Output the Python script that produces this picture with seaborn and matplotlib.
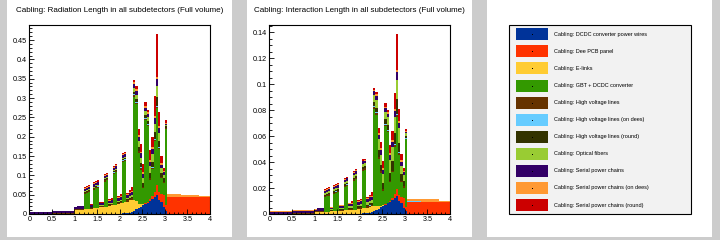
import numpy as np
import pandas as pd
import matplotlib
matplotlib.use("Agg")
import matplotlib.pyplot as plt
from matplotlib.patches import Rectangle
from matplotlib.ticker import MultipleLocator, FormatStrFormatter
import seaborn as sns

sns.set_theme(style="ticks")
plt.rcParams["font.family"] = ["Liberation Sans", "DejaVu Sans"]

# eta binning: 80 bins of 0.05 between 0 and 4
n_bins = 80
eta_range = (0, 4)
eta_edges = np.linspace(eta_range[0], eta_range[1], n_bins + 1)
eta_centres = (eta_edges[:-1] + eta_edges[1:]) / 2

labels = ["DCDC converter power wires", "Dee PCB panel", "E-links", "GBT + DCDC converter",
          "High voltage lines", "High voltage lines (on dees)", "High voltage lines (round)",
          "Optical fibers", "Serial power chains", "Serial power chains (on dees)",
          "Serial power chains (round)"]
colors = ["#003399", "#ff3300", "#ffcc33", "#339900", "#663300", "#66ccff", "#333300",
          "#99cc33", "#330066", "#ff9933", "#cc0000"]

# ---- radiation length per bin (units of 1e-3) ----
rad_dcdc = [0, 0, 0, 0, 0, 0, 0, 0, 0, 0,
            0, 0, 0, 0, 0, 0, 0, 0, 0, 0,
            0, 0, 0, 0, 0, 0, 0, 0, 0, 0,
            0, 0, 0, 0, 0, 0, 0, 0, 0, 0,
            1, 1.5, 2, 2, 3, 5, 8, 12, 15, 19,
            23, 26, 29, 33, 38, 44, 50, 36, 30, 18,
            8, 0, 0, 0, 0, 0, 0, 0, 0, 0,
            0, 0, 0, 0, 0, 0, 0, 0, 0, 0]
rad_dee = [0, 0, 0, 0, 0, 0, 0, 0, 0, 0,
           0, 0, 0, 0, 0, 0, 0, 0, 0, 0,
           0, 0, 0, 0, 0, 0, 0, 0, 0, 0,
           0, 0, 0, 0, 0, 0, 0, 0, 0, 0,
           0, 0, 0, 0, 0, 0, 0, 0, 0, 0,
           0, 2, 3, 5, 8, 14, 25, 22, 22, 32,
           15, 44, 44, 44, 44, 44, 44, 44, 44, 44,
           44, 44, 44, 44, 44, 44, 44, 44, 44, 44]
rad_elinks = [0, 0, 0, 0, 0, 0, 0, 0, 0, 0,
              1, 1, 1, 1, 1, 1, 1, 1, 1, 1,
              11, 11, 11, 11, 12, 12, 12, 14, 15, 15,
              15, 17, 17, 19, 19, 21, 22, 24, 24, 26,
              27, 28, 30, 30, 32, 32, 28, 22, 12, 6,
              3, 0, 0, 0, 0, 0, 0, 0, 0, 0,
              0, 0, 0, 0, 0, 0, 0, 0, 0, 0,
              0, 0, 0, 0, 0, 0, 0, 0, 0, 0]
rad_gbt = [0, 0, 0, 0, 0, 0, 0, 0, 0, 0,
           0, 0, 0, 0, 0, 0, 0, 0, 0, 0,
           0, 0, 0, 0, 39.5, 42.5, 44.5, 0, 48, 51,
           53, 0, 0, 65, 68, 0, 0, 80, 84, 0,
           0, 104.5, 105, 0, 0, 0, 268, 250, 130, 90,
           40, 215, 195, 50, 70, 130, 198, 110, 40, 30,
           197, 0, 0, 0, 0, 0, 0, 0, 0, 0,
           0, 0, 0, 0, 0, 0, 0, 0, 0, 0]
rad_hv = [0.8, 0.8, 0.8, 0.8, 0.8, 0.8, 0.8, 0.8, 0.8, 0.8,
          1.5, 1.5, 1.5, 1.5, 1.5, 1.5, 1.5, 1.5, 1.5, 1.5,
          1.5, 1.5, 1.5, 1.5, 3, 3, 3, 2, 3, 3,
          3, 2.5, 2.5, 3, 3, 3, 3, 3, 3, 3.5,
          3.5, 3.5, 3.5, 3.5, 4, 4, 4, 4, 5, 5,
          4, 3, 3, 4, 4, 4, 5, 4, 3, 3,
          2, 0, 0, 0, 0, 0, 0, 0, 0, 0,
          0, 0, 0, 0, 0, 0, 0, 0, 0, 0]
rad_hv_dees = [0, 0, 0, 0, 0, 0, 0, 0, 0, 0,
               0, 0, 0, 0, 0, 0, 0, 0, 0, 0,
               0, 0, 0, 0, 0.5, 0.5, 0.5, 0, 0.5, 0.5,
               0.5, 0, 0, 0.5, 0.5, 0, 0, 0.5, 0.5, 0,
               0, 1, 1, 0.5, 0.5, 0.5, 2, 2, 1, 1,
               1, 2, 2, 1, 1, 2, 2, 2, 1, 1,
               1, 1.2, 1.2, 1.2, 1.2, 1.2, 1.2, 0, 0, 0,
               0, 0, 0, 0, 0, 0, 0, 0, 0, 0]
rad_hv_round = [0, 0, 0, 0, 0, 0, 0, 0, 0, 0,
                0.5, 0.5, 0.5, 0.5, 0.5, 0.5, 0.5, 0.5, 0.5, 0.5,
                0, 0, 0, 0, 2, 2, 2, 1, 2, 2,
                2, 1.5, 1.5, 2.5, 2.5, 2, 2, 2.5, 2.5, 2.5,
                2.5, 3, 3, 2.5, 3, 3, 6, 7, 10, 10,
                9, 8, 8, 12, 14, 18, 23, 15, 10, 8,
                4, 0, 0, 0, 0, 0, 0, 0, 0, 0,
                0, 0, 0, 0, 0, 0, 0, 0, 0, 0]
rad_fibres = [0, 0, 0, 0, 0, 0, 0, 0, 0, 0,
              0, 0, 0, 0, 0, 0, 0, 0, 0, 0,
              0, 0, 0, 0, 2, 2, 2, 1, 2.5, 2.5,
              2.5, 1.5, 1.5, 2.5, 2.5, 2, 2, 3, 3, 2.5,
              2.5, 3.5, 3.5, 3.5, 4, 4, 10, 11, 15, 14,
              12, 10, 10, 18, 20, 22, 27, 20, 12, 8,
              4, 0, 0, 0, 0, 0, 0, 0, 0, 0,
              0, 0, 0, 0, 0, 0, 0, 0, 0, 0]
rad_serial = [3.5, 3.5, 3.5, 3.5, 3.5, 3.5, 3.5, 3.5, 3.5, 3.5,
              4, 4, 4, 4, 4, 4, 4, 4, 4, 4,
              5, 7, 7, 7, 6, 6, 6, 4, 6, 6,
              6, 5, 5, 6.5, 6.5, 6, 6, 7, 7, 7,
              7, 7.5, 7.5, 7.5, 8, 8, 11, 11, 12, 12,
              12, 9, 9, 12, 13, 15, 19, 14, 10, 8,
              3, 0, 0, 0, 0, 0, 0, 0, 0, 0,
              0, 0, 0, 0, 0, 0, 0, 0, 0, 0]
rad_serial_dees = [0.5, 0.5, 0.5, 0.5, 0.5, 0.5, 0.5, 0.5, 0.5, 0.5,
                   0.8, 0.8, 0.8, 0.8, 0.8, 0.8, 0.8, 0.8, 0.8, 0.8,
                   0.5, 0.5, 0.5, 0.5, 2, 2, 2, 1, 2, 2,
                   2, 1.5, 1.5, 2, 2, 2, 2, 2, 2, 2,
                   2, 2, 2, 2, 2.5, 2.5, 4, 4, 5, 4,
                   4, 4, 4, 5, 5, 5, 5, 5, 4, 3,
                   2, 6, 6, 6, 6, 6, 6, 6, 6, 6,
                   6, 6, 6, 6, 6, 3, 3, 3, 3, 3]
rad_serial_round = [0.2, 0.2, 0.2, 0.2, 0.2, 0.2, 0.2, 0.2, 0.2, 0.2,
                    0.5, 0.5, 0.5, 0.5, 0.5, 0.5, 0.5, 0.5, 0.5, 0.5,
                    0.5, 0.5, 0.5, 0.5, 3, 3, 3, 2, 3, 3,
                    3, 2, 2, 3, 3, 2, 5, 3, 3, 3.5,
                    5.5, 3.5, 3.5, 4, 5, 11, 6, 7, 15, 19,
                    22, 11, 7, 25, 27, 51, 112, 37, 18, 9,
                    7, 0, 0, 0, 0, 0, 0, 0, 0, 0,
                    0, 0, 0, 0, 0, 0, 0, 0, 0, 0]

# ---- interaction length per bin (units of 1e-3) ----
int_dcdc = [0, 0, 0, 0, 0, 0, 0, 0, 0, 0,
            0, 0, 0, 0, 0, 0, 0, 0, 0, 0,
            0, 0, 0, 0, 0, 0, 0, 0, 0, 0,
            0, 0, 0, 0, 0, 0, 0, 0, 0, 0,
            0.3, 0.4, 0.6, 0.6, 0.8, 1.4, 2.2, 3.4, 4.2, 5.3,
            6.4, 7.3, 8.1, 9.2, 10.6, 12.3, 14, 10.1, 8.4, 5,
            2.2, 0, 0, 0, 0, 0, 0, 0, 0, 0,
            0, 0, 0, 0, 0, 0, 0, 0, 0, 0]
int_dee = [0, 0, 0, 0, 0, 0, 0, 0, 0, 0,
           0, 0, 0, 0, 0, 0, 0, 0, 0, 0,
           0, 0, 0, 0, 0, 0, 0, 0, 0, 0,
           0, 0, 0, 0, 0, 0, 0, 0, 0, 0,
           0, 0, 0, 0, 0, 0, 0, 0, 0, 0,
           0, 0.4, 0.7, 1.1, 1.8, 3.1, 5.5, 4.8, 4.8, 7,
           3.3, 9.5, 9.5, 9.5, 9.5, 9.5, 9.5, 9.5, 9.5, 9.5,
           9.5, 9.5, 9.5, 9.5, 9.5, 9.5, 9.5, 9.5, 9.5, 9.5]
int_elinks = [0, 0, 0, 0, 0, 0, 0, 0, 0, 0,
              0.15, 0.15, 0.15, 0.15, 0.15, 0.15, 0.15, 0.15, 0.15, 0.15,
              1.5, 1.5, 1.5, 1.5, 1.7, 1.7, 1.7, 2, 2.1, 2.1,
              2.1, 2.4, 2.4, 2.7, 2.7, 2.9, 3.1, 3.4, 3.4, 3.6,
              3.8, 3.9, 4.2, 4.2, 4.5, 4.5, 3.9, 3.1, 1.7, 0.8,
              0.4, 0, 0, 0, 0, 0, 0, 0, 0, 0,
              0, 0, 0, 0, 0, 0, 0, 0, 0, 0,
              0, 0, 0, 0, 0, 0, 0, 0, 0, 0]
int_gbt = [0, 0, 0, 0, 0, 0, 0, 0, 0, 0,
           0, 0, 0, 0, 0, 0, 0, 0, 0, 0,
           0, 0, 0, 0, 11.1, 11.9, 12.5, 0, 13.4, 14.3,
           14.8, 0, 0, 18.2, 19, 0, 0, 22.4, 23.5, 0,
           0, 29.2, 29.4, 0, 0, 0, 75, 70, 36.4, 25.2,
           11.2, 60.2, 54.6, 14, 19.6, 36.4, 55.4, 30.8, 11.2, 8.4,
           52, 0, 0, 0, 0, 0, 0, 0, 0, 0,
           0, 0, 0, 0, 0, 0, 0, 0, 0, 0]
int_hv = [0.3, 0.3, 0.3, 0.3, 0.3, 0.3, 0.3, 0.3, 0.3, 0.3,
          0.45, 0.45, 0.45, 0.45, 0.45, 0.45, 0.45, 0.45, 0.45, 0.45,
          0.45, 0.45, 0.45, 0.45, 0.9, 0.9, 0.9, 0.6, 0.9, 0.9,
          0.9, 0.75, 0.75, 0.9, 0.9, 0.9, 0.9, 0.9, 0.9, 1.05,
          1.05, 1.05, 1.05, 1.05, 1.2, 1.2, 1.2, 1.2, 1.5, 1.5,
          1.2, 0.9, 0.9, 1.2, 1.2, 1.2, 1.5, 1.2, 0.9, 0.9,
          0.6, 0, 0, 0, 0, 0, 0, 0, 0, 0,
          0, 0, 0, 0, 0, 0, 0, 0, 0, 0]
int_hv_dees = [0, 0, 0, 0, 0, 0, 0, 0, 0, 0,
               0, 0, 0, 0, 0, 0, 0, 0, 0, 0,
               0, 0, 0, 0, 0.15, 0.15, 0.15, 0, 0.15, 0.15,
               0.15, 0, 0, 0.15, 0.15, 0, 0, 0.15, 0.15, 0,
               0, 0.3, 0.3, 0.15, 0.15, 0.15, 0.6, 0.6, 0.3, 0.3,
               0.3, 0.6, 0.6, 0.3, 0.3, 0.6, 0.6, 0.6, 0.3, 0.3,
               0.3, 0.4, 0.4, 0.4, 0.4, 0.4, 0.4, 0, 0, 0,
               0, 0, 0, 0, 0, 0, 0, 0, 0, 0]
int_hv_round = [0, 0, 0, 0, 0, 0, 0, 0, 0, 0,
                0.25, 0.25, 0.25, 0.25, 0.25, 0.25, 0.25, 0.25, 0.25, 0.25,
                0, 0, 0, 0, 1, 1, 1, 0.5, 1, 1,
                1, 0.75, 0.75, 1.25, 1.25, 1, 1, 1.25, 1.25, 1.25,
                1.25, 1.5, 1.5, 1.25, 1.5, 1.5, 3, 3.5, 5, 5,
                4.5, 4, 4, 6, 7, 9, 11.5, 7.5, 5, 4,
                2, 0, 0, 0, 0, 0, 0, 0, 0, 0,
                0, 0, 0, 0, 0, 0, 0, 0, 0, 0]
int_fibres = [0, 0, 0, 0, 0, 0, 0, 0, 0, 0,
              0, 0, 0, 0, 0, 0, 0, 0, 0, 0,
              0, 0, 0, 0, 1.1, 1.1, 1.1, 0.55, 1.4, 1.4,
              1.4, 0.8, 0.8, 1.4, 1.4, 1.1, 1.1, 1.65, 1.65, 1.4,
              1.4, 1.9, 1.9, 1.9, 2.2, 2.2, 5.5, 6, 8.3, 7.7,
              6.6, 5.5, 5.5, 9.9, 11, 12.1, 14.9, 11, 6.6, 4.4,
              2.2, 0, 0, 0, 0, 0, 0, 0, 0, 0,
              0, 0, 0, 0, 0, 0, 0, 0, 0, 0]
int_serial = [1.6, 1.6, 1.6, 1.6, 1.6, 1.6, 1.6, 1.6, 1.6, 1.6,
              1.8, 1.8, 1.8, 1.8, 1.8, 1.8, 1.8, 1.8, 1.8, 1.8,
              1.5, 2.5, 2.5, 2.5, 1.8, 1.8, 1.8, 1.2, 1.8, 1.8,
              1.8, 1.5, 1.5, 1.95, 1.95, 1.8, 1.8, 2.1, 2.1, 2.1,
              2.1, 2.25, 2.25, 2.25, 2.4, 2.4, 3.3, 3.3, 3.6, 3.6,
              3.6, 2.7, 2.7, 3.6, 3.9, 4.5, 5.7, 4.2, 3, 2.4,
              0.9, 0, 0, 0, 0, 0, 0, 0, 0, 0,
              0, 0, 0, 0, 0, 0, 0, 0, 0, 0]
int_serial_dees = [0.2, 0.2, 0.2, 0.2, 0.2, 0.2, 0.2, 0.2, 0.2, 0.2,
                   0.25, 0.25, 0.25, 0.25, 0.25, 0.25, 0.25, 0.25, 0.25, 0.25,
                   0.15, 0.15, 0.15, 0.15, 0.6, 0.6, 0.6, 0.3, 0.6, 0.6,
                   0.6, 0.45, 0.45, 0.6, 0.6, 0.6, 0.6, 0.6, 0.6, 0.6,
                   0.6, 0.6, 0.6, 0.6, 0.75, 0.75, 1.2, 1.2, 1.5, 1.2,
                   1.2, 1.2, 1.2, 1.5, 1.5, 1.5, 1.5, 1.5, 1.2, 0.9,
                   0.6, 1.8, 1.8, 1.8, 1.8, 1.8, 1.8, 1.8, 1.8, 1.8,
                   1.8, 1.8, 1.8, 1.8, 1.8, 0.8, 0.8, 0.8, 0.8, 0.8]
int_serial_round = [0.1, 0.1, 0.1, 0.1, 0.1, 0.1, 0.1, 0.1, 0.1, 0.1,
                    0.15, 0.15, 0.15, 0.15, 0.15, 0.15, 0.15, 0.15, 0.15, 0.15,
                    0.15, 0.15, 0.15, 0.15, 0.75, 0.75, 0.75, 0.5, 0.75, 0.75,
                    0.75, 0.5, 0.5, 0.75, 0.75, 0.5, 1.25, 0.75, 0.75, 0.9,
                    1.4, 0.9, 0.9, 1, 1.25, 2.75, 1.5, 1.75, 3.75, 4.75,
                    5.5, 2.75, 1.75, 6.25, 6.75, 12.75, 28, 9.25, 4.5, 2.25,
                    1.75, 0, 0, 0, 0, 0, 0, 0, 0, 0,
                    0, 0, 0, 0, 0, 0, 0, 0, 0, 0]

rad_series = [rad_dcdc, rad_dee, rad_elinks, rad_gbt, rad_hv, rad_hv_dees, rad_hv_round,
              rad_fibres, rad_serial, rad_serial_dees, rad_serial_round]
int_series = [int_dcdc, int_dee, int_elinks, int_gbt, int_hv, int_hv_dees, int_hv_round,
              int_fibres, int_serial, int_serial_dees, int_serial_round]

W, H = 720, 240
fig = plt.figure(figsize=(W / 100, H / 100), dpi=100, facecolor="#cccccc")


def px_axes(x0, y0, x1, y1):
    # pixel box (top-left origin) -> figure axes
    return fig.add_axes([x0 / W, 1 - y1 / H, (x1 - x0) / W, (y1 - y0) / H])


for x0 in (7, 247, 487):
    fig.patches.append(Rectangle((x0 / W, 3 / H), 225 / W, 237 / H, transform=fig.transFigure,
                                 facecolor="white", edgecolor="none", zorder=-5))


def draw_stack(ax, series, ymax, major, minor, title, title_x):
    df = pd.concat([pd.DataFrame({"eta": eta_centres, "value": np.asarray(v) / 1000.0, "part": lab})
                    for lab, v in zip(labels, series)], ignore_index=True)
    sns.histplot(data=df, x="eta", weights="value", hue="part", hue_order=labels[::-1],
                 palette=dict(zip(labels, colors)), multiple="stack", bins=n_bins,
                 binrange=eta_range, element="bars", fill=True, alpha=1, linewidth=0,
                 antialiased=False, legend=False, ax=ax)
    ax.set_xlim(0, 4)
    ax.set_ylim(0, ymax)
    ax.set_xlabel("")
    ax.set_ylabel("")
    ax.set_facecolor("white")
    ax.set_axisbelow(False)
    ax.xaxis.set_major_locator(MultipleLocator(0.5))
    ax.xaxis.set_minor_locator(MultipleLocator(0.1))
    ax.yaxis.set_major_locator(MultipleLocator(major))
    ax.yaxis.set_minor_locator(MultipleLocator(minor))
    ax.xaxis.set_major_formatter(FormatStrFormatter("%g"))
    ax.yaxis.set_major_formatter(FormatStrFormatter("%g"))
    ax.tick_params(which="both", direction="in", top=False, right=False, color="black",
                   labelcolor="black", labelsize=5.2, width=0.6, pad=1.5)
    ax.tick_params(which="major", length=3.5)
    ax.tick_params(which="minor", length=1.8)
    for s in ax.spines.values():
        s.set_color("black")
        s.set_linewidth(0.8)
        s.set_visible(True)
    fig.text(title_x / W, 1 - 10.5 / H, title, ha="center", va="center", fontsize=5.75, color="black")


ax1 = px_axes(29.3, 25, 210, 214)
draw_stack(ax1, rad_series, 0.489, 0.05, 0.01,
           "Cabling: Radiation Length in all subdetectors (Full volume)", 119.5)
ax2 = px_axes(269.3, 25, 450, 214)
draw_stack(ax2, int_series, 0.1456, 0.02, 0.005,
           "Cabling: Interaction Length in all subdetectors (Full volume)", 359.5)

# legend panel
lx0, ly0, lx1, ly1 = 509, 25, 691, 214
axl = px_axes(lx0, ly0, lx1, ly1)
axl.set_xlim(lx0, lx1)
axl.set_ylim(ly1, ly0)
axl.axis("off")
axl.add_patch(Rectangle((lx0, ly0), lx1 - lx0, ly1 - ly0, facecolor="#f2f2f2",
                        edgecolor="black", linewidth=0.8, clip_on=False))
for k, (lab, col) in enumerate(zip(labels, colors)):
    yc = 34.3 + 17.07 * k
    axl.add_patch(Rectangle((516, yc - 6), 32, 12, facecolor=col, edgecolor="none"))
    axl.plot([532], [yc], marker="s", ms=0.7, color="black", mew=0)
    axl.text(554, yc, "Cabling: " + lab, fontsize=4, va="center", ha="left", color="black")

fig.savefig("out.png", dpi=100, facecolor=fig.get_facecolor())
